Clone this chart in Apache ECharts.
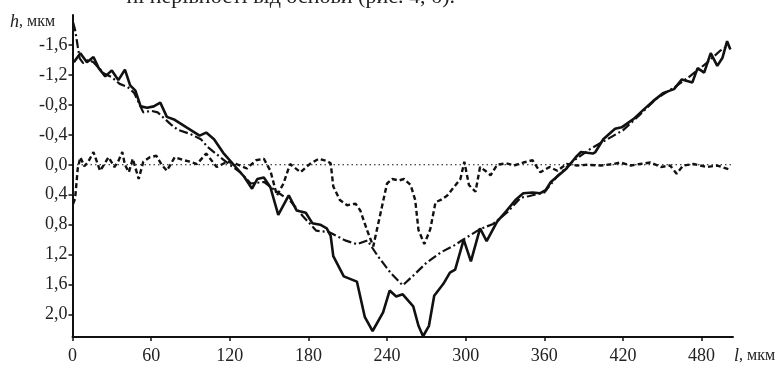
<!DOCTYPE html>
<html>
<head>
<meta charset="utf-8">
<script src="https://cdn.jsdelivr.net/npm/echarts@6/dist/echarts.min.js"></script>
<style>
  html, body { margin: 0; padding: 0; background: #fff; }
  #profile { width: 779px; height: 365px; }
</style>
</head>
<body>
<div id="profile"></div>
<script>
// профіль поверхні (суцільна лінія), l мкм / h мкм
const solidL = [1, 6, 11, 16, 20, 25, 30, 35, 40, 44, 48, 52, 57, 62, 67, 72, 78, 87, 97, 102, 108, 115, 123, 131, 137, 141, 146, 151, 157, 165, 171, 178, 183, 189, 194, 197, 199, 207, 217, 223, 229, 237, 242, 247, 252, 260, 264, 267.5, 272, 276, 283, 288, 292, 298.5, 304, 311, 316, 324, 331, 338, 344, 351, 357, 361, 365, 371, 377, 384, 388, 397, 399, 405, 414, 419, 428, 436, 443, 451, 459, 465, 473, 477, 482, 487, 492, 496, 499.5, 502]
const solidH = [-1.37, -1.49, -1.37, -1.44, -1.29, -1.18, -1.26, -1.13, -1.27, -1.06, -0.99, -0.78, -0.76, -0.78, -0.83, -0.64, -0.60, -0.50, -0.39, -0.43, -0.34, -0.16, 0.0, 0.16, 0.32, 0.19, 0.17, 0.30, 0.67, 0.41, 0.61, 0.64, 0.78, 0.80, 0.85, 0.95, 1.22, 1.49, 1.56, 2.03, 2.22, 1.97, 1.68, 1.76, 1.73, 1.89, 2.15, 2.29, 2.15, 1.75, 1.59, 1.44, 1.40, 1.00, 1.29, 0.85, 1.02, 0.76, 0.62, 0.47, 0.38, 0.37, 0.38, 0.34, 0.23, 0.14, 0.05, -0.10, -0.17, -0.15, -0.17, -0.34, -0.48, -0.50, -0.61, -0.74, -0.85, -0.96, -1.01, -1.14, -1.10, -1.29, -1.23, -1.49, -1.32, -1.43, -1.65, -1.54]

// середня лінія профілю (штрих-пунктир)
const meanL = [0.5, 2, 4, 5.5, 8, 12, 16, 24, 30, 36, 42, 47, 50, 54, 60, 65, 70, 75, 80, 90, 98, 103, 110, 120, 128, 136, 146, 156, 166, 176, 186, 196, 208, 217, 225, 233, 243, 252, 260, 270, 281, 291, 298, 311, 321, 332, 342, 348, 360, 370, 382, 395, 408, 420, 433, 446, 459, 471, 484, 494, 501]
const meanH = [-1.90, -1.80, -1.58, -1.42, -1.36, -1.40, -1.37, -1.22, -1.17, -1.08, -1.04, -0.96, -0.85, -0.70, -0.72, -0.70, -0.62, -0.54, -0.47, -0.41, -0.34, -0.24, -0.14, 0.0, 0.10, 0.25, 0.23, 0.36, 0.48, 0.69, 0.88, 0.90, 1.01, 1.06, 1.01, 1.22, 1.45, 1.61, 1.48, 1.31, 1.17, 1.08, 1.00, 0.86, 0.79, 0.63, 0.44, 0.42, 0.37, 0.15, -0.05, -0.21, -0.34, -0.46, -0.67, -0.89, -1.03, -1.18, -1.36, -1.52, -1.60]

// відхилення від середньої лінії (штрихова)
const devL = [0.5, 2, 4, 6, 9, 12, 16, 21, 24, 27.5, 32, 35, 38, 40, 43, 46, 50.5, 54, 59, 64, 68, 72, 78, 85, 90, 95, 102, 110, 118, 125, 133, 140, 146, 151, 156, 161, 166, 174, 181, 188, 194, 197, 199, 204, 209.5, 216, 219.6, 224.7, 229.5, 235, 240, 244, 249, 253, 258, 261.5, 264, 268.5, 273, 277, 281, 286, 291, 296, 299, 302.5, 307.5, 311, 315, 319, 324, 331, 337, 344, 351, 357, 364, 370, 377, 385, 393, 403, 413, 418, 426, 433, 441, 449, 456, 461, 466, 474, 479, 484, 492, 500.5]
const devH = [0.52, 0.45, 0.05, -0.10, 0.02, -0.04, -0.17, 0.08, 0.0, -0.10, 0.03, -0.05, -0.17, 0.0, 0.10, -0.08, 0.19, -0.04, -0.10, -0.12, 0.0, 0.08, -0.10, -0.06, -0.04, -0.01, -0.15, 0.03, -0.04, -0.01, 0.05, -0.06, -0.08, 0.08, 0.41, 0.25, -0.01, 0.10, -0.01, -0.08, -0.05, -0.02, 0.29, 0.47, 0.54, 0.52, 0.61, 0.87, 1.09, 0.65, 0.25, 0.19, 0.21, 0.19, 0.27, 0.47, 0.87, 1.06, 0.86, 0.50, 0.47, 0.41, 0.30, 0.19, -0.04, 0.27, 0.36, 0.03, 0.08, 0.14, 0.0, -0.02, 0.01, -0.03, -0.06, 0.10, 0.03, 0.08, -0.01, 0.01, 0.0, 0.01, -0.01, -0.03, 0.01, -0.01, -0.03, 0.03, 0.01, 0.12, 0.01, -0.01, 0.01, 0.03, 0.01, 0.06]

// нульова лінія (пунктир)
const zeroL = [0, 504]
const zeroH = [0, 0]

const xTicks = [0, 60, 120, 180, 240, 300, 360, 420, 480]
const yTicks = [-1.6, -1.2, -0.8, -0.4, 0, 0.4, 0.8, 1.2, 1.6, 2.0]

const zip = (xs, ys) => xs.map((x, i) => [x, ys[i]])

const FONT = '"Liberation Serif", "DejaVu Serif", serif'
const INK = '#111'

const chart = echarts.init(document.getElementById('profile'), null, { renderer: 'canvas' })

const lineSeries = (data, width, type) => ({
  type: 'line',
  data,
  showSymbol: false,
  symbol: 'none',
  silent: true,
  lineStyle: { color: INK, width, type }
})

chart.setOption({
  animation: false,
  backgroundColor: '#fff',
  grid: { left: 72.5, right: 46, top: 15, bottom: 28 },
  xAxis: {
    type: 'value',
    min: 0,
    max: 504,
    axisLine: { onZero: false, lineStyle: { color: INK, width: 2 } },
    axisTick: { length: 4, customValues: xTicks, lineStyle: { color: INK, width: 1.5 } },
    axisLabel: {
      customValues: xTicks,
      margin: 10,
      color: '#222',
      fontFamily: FONT,
      fontSize: 18
    },
    splitLine: { show: false }
  },
  yAxis: {
    type: 'value',
    inverse: true,
    min: -2.0,
    max: 2.3,
    axisLine: { show: true, onZero: false, lineStyle: { color: INK, width: 2 } },
    axisTick: { show: true, length: 4, customValues: yTicks, lineStyle: { color: INK, width: 1.5 } },
    axisLabel: {
      customValues: yTicks,
      margin: 5,
      color: '#222',
      fontFamily: FONT,
      fontSize: 18,
      formatter: v => v.toFixed(1).replace('.', ',')
    },
    splitLine: { show: false }
  },
  graphic: [
    {
      type: 'text',
      x: 455,
      y: -3,
      silent: true,
      style: {
        text: 'ні нерівності від основи (рис. 4, б).',
        font: '22px ' + FONT,
        fill: '#222',
        align: 'right',
        verticalAlign: 'middle'
      }
    },
    {
      type: 'text',
      x: 10,
      y: 13,
      silent: true,
      style: {
        text: '{i|h}, мкм',
        font: '16px ' + FONT,
        fill: '#222',
        verticalAlign: 'top',
        rich: { i: { fontStyle: 'italic', fontSize: 18, fontFamily: FONT } }
      }
    },
    {
      type: 'text',
      x: 734,
      y: 347,
      silent: true,
      style: {
        text: '{i|l}, мкм',
        font: '16px ' + FONT,
        fill: '#222',
        verticalAlign: 'top',
        rich: { i: { fontStyle: 'italic', fontSize: 18, fontFamily: FONT } }
      }
    }
  ],
  series: [
    lineSeries(zip(zeroL, zeroH), 1.2, [1.5, 3]),
    lineSeries(zip(devL, devH), 2.4, [5, 3]),
    lineSeries(zip(meanL, meanH), 2.2, [9, 3, 2, 3]),
    lineSeries(zip(solidL, solidH), 2.6, 'solid')
  ]
})
</script>
</body>
</html>
